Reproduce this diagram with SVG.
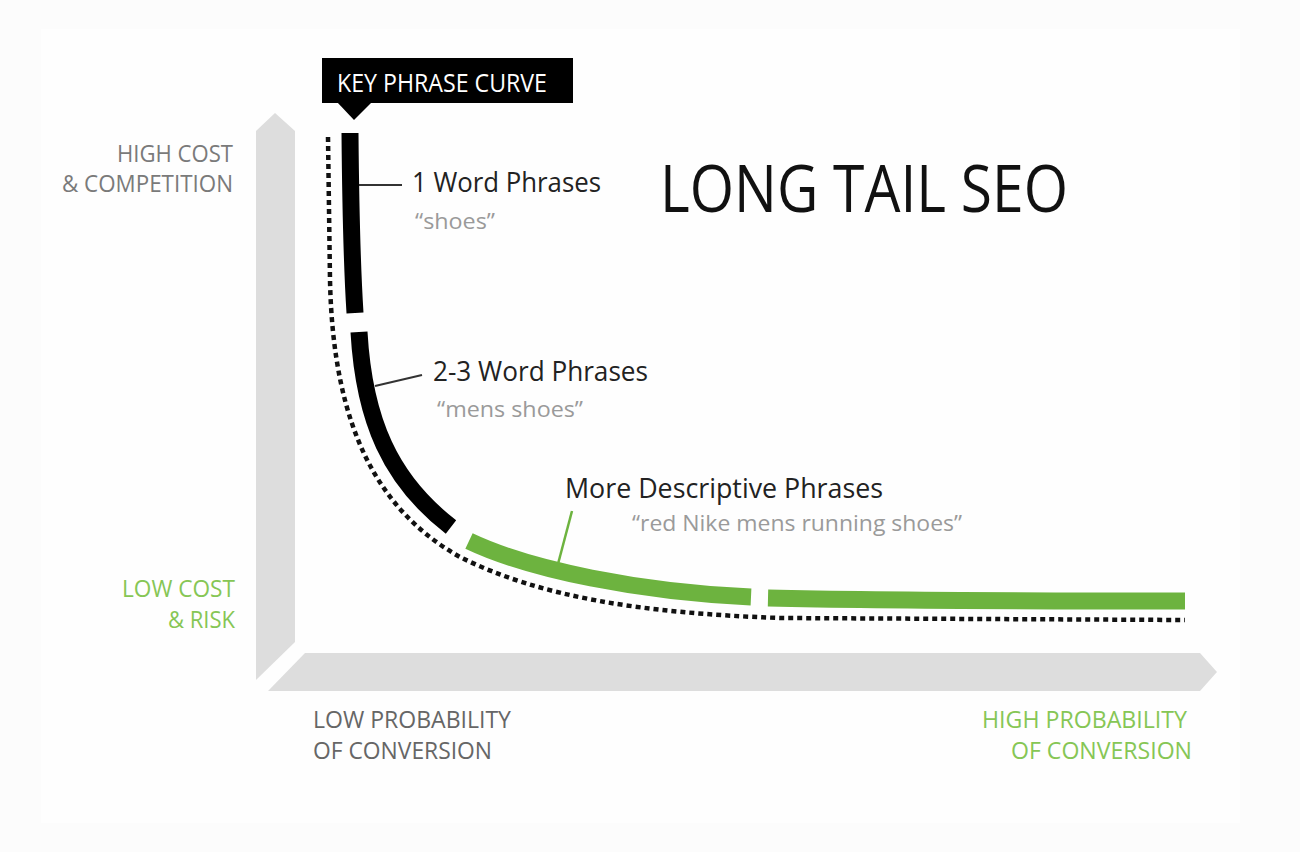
<svg xmlns="http://www.w3.org/2000/svg" width="1300" height="852" viewBox="0 0 1300 852">
  <style>
    .t { font-family: "Open Sans", "Liberation Sans", sans-serif; }
    .axis { fill: #dddddd; }
    .axlbl { font-size: 24px; fill: #7a7a7a; }
    .axlbl2 { font-size: 24px; fill: #666666; }
    .green { fill: #86c655; }
    .phrase { font-size: 28px; fill: #222222; }
    .quote { font-size: 22px; fill: #9a9a9a; }
    .bar { fill: none; stroke-width: 17; stroke-linecap: butt; }
    .black { stroke: #000000; }
    .gbar { stroke: #6db33f; }
    .dots { fill: none; stroke: #111111; stroke-width: 4.5; stroke-dasharray: 5 4; }
    .lead { fill: none; stroke: #333333; stroke-width: 2; }
    .glead { fill: none; stroke: #6db33f; stroke-width: 2.5; }
  </style>

  <rect x="0" y="0" width="1300" height="852" fill="#fcfcfc"/>
  <rect x="41" y="29" width="1199" height="794" fill="#fefefe"/>

  <g id="axes">
    <polygon class="axis" points="256,131 275,113 295,131 295,642 256,680"/>
    <polygon class="axis" points="305,653 1200,653 1217,672 1200,691 268,691"/>
  </g>

  <g id="axis-labels" class="t">
    <text class="axlbl" x="117" y="162" textLength="116" lengthAdjust="spacingAndGlyphs">HIGH COST</text>
    <text class="axlbl" x="62" y="192" textLength="171" lengthAdjust="spacingAndGlyphs">&amp; COMPETITION</text>
    <text class="axlbl green" x="122" y="597" textLength="113" lengthAdjust="spacingAndGlyphs">LOW COST</text>
    <text class="axlbl green" x="168" y="628" textLength="67" lengthAdjust="spacingAndGlyphs">&amp; RISK</text>
    <text class="axlbl2" x="313" y="728" textLength="198" lengthAdjust="spacingAndGlyphs">LOW PROBABILITY</text>
    <text class="axlbl2" x="313" y="759" textLength="179" lengthAdjust="spacingAndGlyphs">OF CONVERSION</text>
    <text class="axlbl green" x="982" y="728" textLength="205" lengthAdjust="spacingAndGlyphs">HIGH PROBABILITY</text>
    <text class="axlbl green" x="1011" y="759" textLength="181" lengthAdjust="spacingAndGlyphs">OF CONVERSION</text>
  </g>

  <g id="title">
    <text class="t" x="660" y="212" font-size="66" fill="#111111" textLength="408" lengthAdjust="spacingAndGlyphs">LONG TAIL SEO</text>
  </g>

  <g id="key-phrase-curve-label">
    <rect x="322" y="58" width="251" height="45" fill="#000000"/>
    <polygon points="337,102 372,102 354,120" fill="#000000"/>
    <text class="t" x="337" y="92" font-size="25" fill="#ffffff" textLength="210" lengthAdjust="spacingAndGlyphs">KEY PHRASE CURVE</text>
  </g>

  <g id="baseline-curve">
    <path class="dots" d="M328,137 L330,280 C333,430 380,512 460,557 C540,597 640,613 780,618 L1185,620"/>
  </g>

  <g id="one-word">
    <path class="bar black" d="M350,133 Q351,250 355,313"/>
    <text class="t phrase" x="412" y="192" textLength="189" lengthAdjust="spacingAndGlyphs">1 Word Phrases</text>
    <text class="t quote" x="415" y="229" textLength="80" lengthAdjust="spacingAndGlyphs">“shoes”</text>
  </g>

  <g id="two-three-word">
    <path class="bar black" d="M359,332 C364,420 390,480 451,527"/>
    <text class="t phrase" x="433" y="381" textLength="215" lengthAdjust="spacingAndGlyphs">2-3 Word Phrases</text>
    <text class="t quote" x="437" y="417" textLength="146" lengthAdjust="spacingAndGlyphs">“mens shoes”</text>
  </g>

  <g id="more-descriptive">
    <path class="bar gbar" d="M469,541 C530,570 640,592 751,597"/>
    <path class="bar gbar" d="M768,598 Q900,601 1185,601"/>
    <text class="t phrase" x="565" y="498" textLength="318" lengthAdjust="spacingAndGlyphs">More Descriptive Phrases</text>
    <text class="t quote" x="632" y="531" textLength="330" lengthAdjust="spacingAndGlyphs">“red Nike mens running shoes”</text>
  </g>

  <g id="connectors">
    <line class="lead" x1="359" y1="185" x2="402" y2="185"/>
    <line class="lead" x1="375" y1="386" x2="422" y2="375"/>
    <line class="glead" x1="558" y1="564" x2="572" y2="511"/>
  </g>
</svg>
